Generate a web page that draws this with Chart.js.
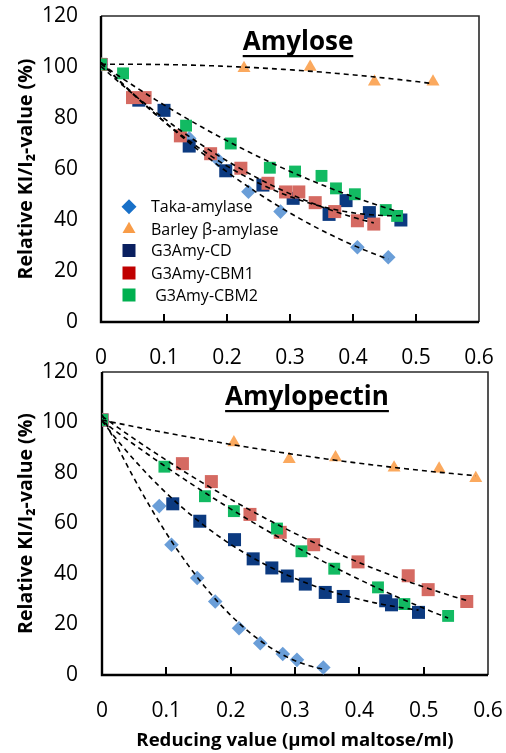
<!DOCTYPE html>
<html><head><meta charset="utf-8">
<script src="https://cdn.jsdelivr.net/npm/chart.js@4.4.1/dist/chart.umd.min.js"></script>
<style>
html,body{margin:0;padding:0;background:#fff;}
body{width:506px;height:753px;position:relative;overflow:hidden;}
.wrap{position:absolute;left:0;width:506px;}
#w1{top:0;height:368px;} #w2{top:360px;height:393px;}
canvas{display:block;}
</style></head><body>
<div class="wrap" id="w1"><canvas id="c1" width="506" height="368"></canvas></div>
<div class="wrap" id="w2"><canvas id="c2" width="506" height="393"></canvas></div>
<script>
// ---------- data ----------
const xTickValues = [0, 0.1, 0.2, 0.3, 0.4, 0.5, 0.6];
const xTickLabels = ['0', '0.1', '0.2', '0.3', '0.4', '0.5', '0.6'];
const yTickValues = [0, 20, 40, 60, 80, 100, 120];
const yTickLabels = ['0', '20', '40', '60', '80', '100', '120'];
const seriesNames = ['Taka-amylase', 'Barley β-amylase', 'G3Amy-CD', 'G3Amy-CBM1', ' G3Amy-CBM2'];
const panelTitles = ['Amylose', 'Amylopectin'];
const yAxisTitle = 'Relative KI/I₂-value (%)';
const xAxisTitle = 'Reducing value (µmol maltose/ml)';

// Amylose panel
const amyTakaX   = [0, 0.14, 0.186, 0.234, 0.285, 0.407, 0.456];
const amyTakaY   = [101, 72, 63.5, 51.1, 43.3, 29.3, 25.4];
const amyBarleyX = [0, 0.227, 0.332, 0.434, 0.527];
const amyBarleyY = [101, 99.5, 100, 94.2, 94.2];
const amyCDX     = [0, 0.06, 0.1, 0.14, 0.198, 0.257, 0.305, 0.362, 0.389, 0.426, 0.476];
const amyCDY     = [101, 87, 83, 69, 59.3, 53.7, 48.5, 42.2, 47.6, 42.9, 40];
const amyCBM1X   = [0, 0.05, 0.07, 0.126, 0.174, 0.222, 0.265, 0.293, 0.314, 0.34, 0.371, 0.407, 0.433];
const amyCBM1Y   = [101, 88, 88, 73, 66, 60.3, 54.4, 51, 51, 46.8, 43.3, 39.7, 38.4];
const amyCBM2X   = [0, 0.035, 0.135, 0.206, 0.268, 0.308, 0.35, 0.373, 0.403, 0.452, 0.47];
const amyCBM2Y   = [101, 97.5, 77, 70, 60.5, 59, 57.3, 52.4, 50.1, 43.9, 41.6];

// Amylopectin panel
const apTakaX   = [0, 0.089, 0.108, 0.148, 0.176, 0.213, 0.246, 0.281, 0.303, 0.344];
const apTakaY   = [101, 66.9, 51.6, 38.4, 29.1, 18.5, 12.6, 8.3, 6, 3];
const apBarleyX = [0, 0.205, 0.291, 0.363, 0.454, 0.524, 0.581];
const apBarleyY = [101, 92.1, 85.4, 86.1, 82.1, 81.7, 77.9];
const apCDX     = [0, 0.11, 0.152, 0.206, 0.235, 0.264, 0.288, 0.316, 0.347, 0.375, 0.441, 0.45, 0.492];
const apCDY     = [101, 67.8, 60.9, 53.6, 46, 42.4, 39.2, 36, 32.7, 31.1, 29.4, 27.8, 24.8];
const apCBM1X   = [0, 0.125, 0.17, 0.23, 0.277, 0.329, 0.398, 0.476, 0.507, 0.567];
const apCBM1Y   = [101, 83.7, 76.6, 63.6, 56.5, 51.6, 44.8, 39.3, 33.8, 29.1];
const apCBM2X   = [0, 0.097, 0.16, 0.205, 0.272, 0.31, 0.361, 0.429, 0.47, 0.538];
const apCBM2Y   = [101, 82.5, 70.8, 64.9, 58, 49, 42.1, 34.7, 28.1, 23.4];

// polynomial trendline orders (Taka, Barley, CD, CBM1, CBM2)
const amyTrendOrder = [2, 2, 2, 2, 2];
const apTrendOrder  = [2, 2, 3, 2, 2];

// ---------- styles ----------
const markerStyles = [
  {pointStyle: 'rectRot', radius: 7.3, color: '#6A9ED8', legend: '#1870C8', order: 5},
  {pointStyle: 'triangle', radius: 7.5, color: '#FBA95E', legend: '#F89C48', order: 4},
  {pointStyle: 'rect', radius: 9.2, color: '#0C3A80', legend: '#0A2060', order: 3},
  {pointStyle: 'rect', radius: 9.2, color: '#D56A62', legend: '#C00000', order: 2},
  {pointStyle: 'rect', radius: 8.4, color: '#12BA62', legend: '#00B050', order: 1}
];
const FONT = "'Open Sans', 'Liberation Sans', sans-serif";

function zipXY(xs, ys) { return xs.map((x, i) => ({x: x, y: ys[i]})); }

function polyfit(xs, ys, order) {
  const n = order + 1;
  const A = Array.from({length: n}, () => new Array(n + 1).fill(0));
  for (let k = 0; k < xs.length; k++) {
    for (let i = 0; i < n; i++) {
      for (let j = 0; j < n; j++) A[i][j] += Math.pow(xs[k], i + j);
      A[i][n] += ys[k] * Math.pow(xs[k], i);
    }
  }
  for (let i = 0; i < n; i++) {
    let p = i;
    for (let r = i + 1; r < n; r++) if (Math.abs(A[r][i]) > Math.abs(A[p][i])) p = r;
    const t = A[i]; A[i] = A[p]; A[p] = t;
    for (let r = 0; r < n; r++) {
      if (r === i) continue;
      const f = A[r][i] / A[i][i];
      for (let c = i; c <= n; c++) A[r][c] -= f * A[i][c];
    }
  }
  return A.map((row, i) => row[n] / row[i]);
}

const framePlugin = {
  id: 'frame',
  beforeDatasetsDraw(chart) {
    const {ctx, chartArea: a, scales: {x}} = chart;
    ctx.save();
    ctx.strokeStyle = '#2a2a2a'; ctx.lineWidth = 1.6;
    ctx.beginPath(); ctx.moveTo(a.left, a.top); ctx.lineTo(a.right, a.top); ctx.lineTo(a.right, a.bottom); ctx.stroke();
    ctx.strokeStyle = '#000'; ctx.lineWidth = 2;
    xTickValues.forEach(v => {
      if (v <= 0 || v >= 0.6) return;
      const px = Math.round(x.getPixelForValue(v));
      ctx.beginPath(); ctx.moveTo(px, a.bottom); ctx.lineTo(px, a.bottom - 8); ctx.stroke();
    });
    ctx.lineWidth = 2.4;
    ctx.beginPath(); ctx.moveTo(a.left, a.top); ctx.lineTo(a.left, a.bottom); ctx.lineTo(a.right, a.bottom); ctx.stroke();
    ctx.restore();
  }
};

const trendPlugin = {
  id: 'trend',
  afterDatasetsDraw(chart, args, opts) {
    const {ctx, chartArea: a, scales: {x, y}} = chart;
    ctx.save();
    ctx.beginPath(); ctx.rect(a.left, a.top, a.right - a.left, a.bottom - a.top); ctx.clip();
    ctx.strokeStyle = '#000'; ctx.lineWidth = 1.6; ctx.setLineDash([5, 4]);
    chart.data.datasets.forEach((ds, di) => {
      const xs = ds.data.map(p => p.x), ys = ds.data.map(p => p.y);
      const c = polyfit(xs, ys, opts.orders[di]);
      const xmax = Math.max(...xs);
      ctx.beginPath();
      const N = 80;
      for (let k = 0; k <= N; k++) {
        const xv = xmax * k / N;
        let yv = 0;
        for (let i = 0; i < c.length; i++) yv += c[i] * Math.pow(xv, i);
        const px = x.getPixelForValue(xv), py = y.getPixelForValue(yv);
        if (k === 0) ctx.moveTo(px, py); else ctx.lineTo(px, py);
      }
      ctx.stroke();
    });
    ctx.restore();
  }
};

const titlePlugin = {
  id: 'paneltitle',
  afterDraw(chart, args, o) {
    const ctx = chart.ctx;
    ctx.save();
    ctx.font = 'bold ' + o.size + 'px ' + FONT;
    ctx.fillStyle = '#000'; ctx.textAlign = 'center'; ctx.textBaseline = 'alphabetic';
    ctx.fillText(o.text, o.cx, o.baseline);
    const w = ctx.measureText(o.text).width;
    ctx.fillRect(o.cx - w / 2, o.baseline + 5, w, 2.2);
    ctx.restore();
  }
};

const legendPlugin = {
  id: 'customLegend',
  afterDraw(chart, args, o) {
    if (!o.show) return;
    const ctx = chart.ctx;
    ctx.save();
    ctx.font = o.size + 'px ' + FONT;
    ctx.textBaseline = 'middle'; ctx.textAlign = 'left';
    seriesNames.forEach((name, i) => {
      const m = markerStyles[i];
      const yy = o.ys[i];
      ctx.fillStyle = m.legend; ctx.strokeStyle = m.legend; ctx.lineWidth = 0;
      Chart.helpers.drawPoint(ctx, {pointStyle: m.pointStyle, radius: m.pointStyle === 'rect' ? 9.2 : 7.5, rotation: 0, borderWidth: 0}, o.mx, yy);
      ctx.fillStyle = '#000';
      ctx.fillText(name, o.tx, yy + 1);
    });
    ctx.restore();
  }
};

function makeChart(id, cfg) {
  const datasets = cfg.series.map((s, i) => ({
    label: seriesNames[i],
    data: zipXY(s[0], s[1]),
    pointStyle: markerStyles[i].pointStyle,
    pointRadius: markerStyles[i].radius,
    pointBackgroundColor: markerStyles[i].color,
    pointBorderColor: markerStyles[i].color,
    pointBorderWidth: 0,
    showLine: false,
    order: markerStyles[i].order
  }));
  return new Chart(document.getElementById(id), {
    type: 'scatter',
    data: {datasets},
    options: {
      responsive: false, animation: false, devicePixelRatio: 1,
      layout: {padding: {top: cfg.padTop, right: cfg.padRight, left: 0, bottom: 0}},
      plugins: {
        legend: {display: false}, tooltip: {enabled: false}, title: {display: false},
        trend: {orders: cfg.orders},
        paneltitle: cfg.title,
        customLegend: cfg.legend
      },
      scales: {
        x: {
          type: 'linear', min: 0, max: 0.6,
          afterFit(s) { s.height = cfg.xH; s.paddingLeft = 0; s.paddingRight = 0; },
          afterBuildTicks(s) { s.ticks = xTickValues.map(v => ({value: v})); },
          ticks: {callback: (v, i) => xTickLabels[i], padding: cfg.xPad, autoSkip: false, maxRotation: 0,
                  font: {family: FONT, size: 21}, color: '#000'},
          grid: {display: false, drawTicks: false}, border: {display: false},
          title: {display: cfg.xTitle, text: xAxisTitle, color: '#000',
                  font: {family: FONT, size: 18.6, weight: 'bold'}, padding: {top: 0, bottom: 1}}
        },
        y: {
          type: 'linear', min: 0, max: 120,
          afterFit(s) { s.width = cfg.yW; s.paddingTop = 0; s.paddingBottom = 0; },
          afterBuildTicks(s) { s.ticks = yTickValues.map(v => ({value: v})); },
          ticks: {callback: (v, i) => yTickLabels[i], padding: cfg.yPad,
                  font: {family: FONT, size: 21}, color: '#000'},
          grid: {display: false, drawTicks: false}, border: {display: false},
          title: {display: true, text: yAxisTitle, color: '#000',
                  font: {family: FONT, size: 19.5, weight: 'bold'}, padding: {top: 15, bottom: 0}}
        }
      }
    },
    plugins: [framePlugin, trendPlugin, titlePlugin, legendPlugin]
  });
}

makeChart('c1', {
  series: [[amyTakaX, amyTakaY], [amyBarleyX, amyBarleyY], [amyCDX, amyCDY], [amyCBM1X, amyCBM1Y], [amyCBM2X, amyCBM2Y]],
  orders: amyTrendOrder,
  padTop: 16, padRight: 27, yW: 101, xH: 46, xPad: 23, yPad: 23, xTitle: false,
  title: {text: panelTitles[0], cx: 298, baseline: 50, size: 26},
  legend: {show: true, mx: 129, tx: 151, size: 16, ys: [206.7, 229.3, 250.5, 273, 295]}
});
makeChart('c2', {
  series: [[apTakaX, apTakaY], [apBarleyX, apBarleyY], [apCDX, apCDY], [apCBM1X, apCBM1Y], [apCBM2X, apCBM2Y]],
  orders: apTrendOrder,
  padTop: 12, padRight: 18, yW: 102, xH: 78, xPad: 23, yPad: 24, xTitle: true,
  title: {text: panelTitles[1], cx: 307, baseline: 45, size: 26},
  legend: {show: false}
});
</script></body></html>
